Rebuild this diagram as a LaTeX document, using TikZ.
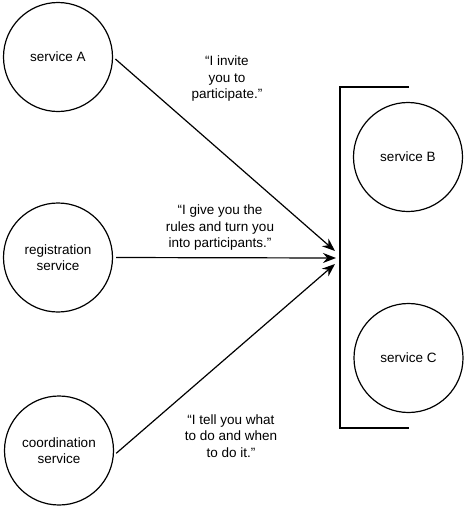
\documentclass[tikz,border=0pt]{standalone}
\usepackage{fontspec}
\setmainfont{Liberation Sans}
\usetikzlibrary{arrows.meta}
\begin{document}
\begin{tikzpicture}[x=1pt,y=-1pt,
  svc/.style={draw,circle,line width=1.2pt,minimum size=109pt,inner sep=0pt,align=center,font=\fontsize{13.5}{16}\selectfont},
  lbl/.style={align=center,font=\fontsize{13.5}{16.5}\selectfont,inner sep=0pt},
  conn/.style={line width=1.2pt,shorten <=3pt,-{Stealth[length=13pt,width=10pt]}}]
\useasboundingbox (0,0) rectangle (467,517);
\node[svc] (A) at (58,57) {service A};
\node[svc] (R) at (58,257.5) {registration\\service};
\node[svc] (Cd) at (59,450.5) {coordination\\service};
\node[svc] (B) at (408,157) {service B};
\node[svc] (C) at (408.5,358) {service C};
\coordinate (ta) at (335,251);
\coordinate (tr) at (336,258);
\coordinate (tc) at (335,264);
\coordinate (bt) at (409,87);
\coordinate (bb) at (409,428);
\draw[line width=1.2pt] (bt) -| (340,428) -- (bb);
\draw[conn] (A.east) -- (ta);
\draw[conn] (R.east) -- (tr);
\draw[conn] (Cd.-5) -- (tc);
\node[lbl] (l1) at (227,79) {“I invite\\you to\\participate.”};
\node[lbl] (l2) at (220,228) {“I give you the\\rules and turn you\\into participants.”};
\node[lbl] (l3) at (231,436) {“I tell you what\\to do and when\\to do it.”};
\end{tikzpicture}
\end{document}
